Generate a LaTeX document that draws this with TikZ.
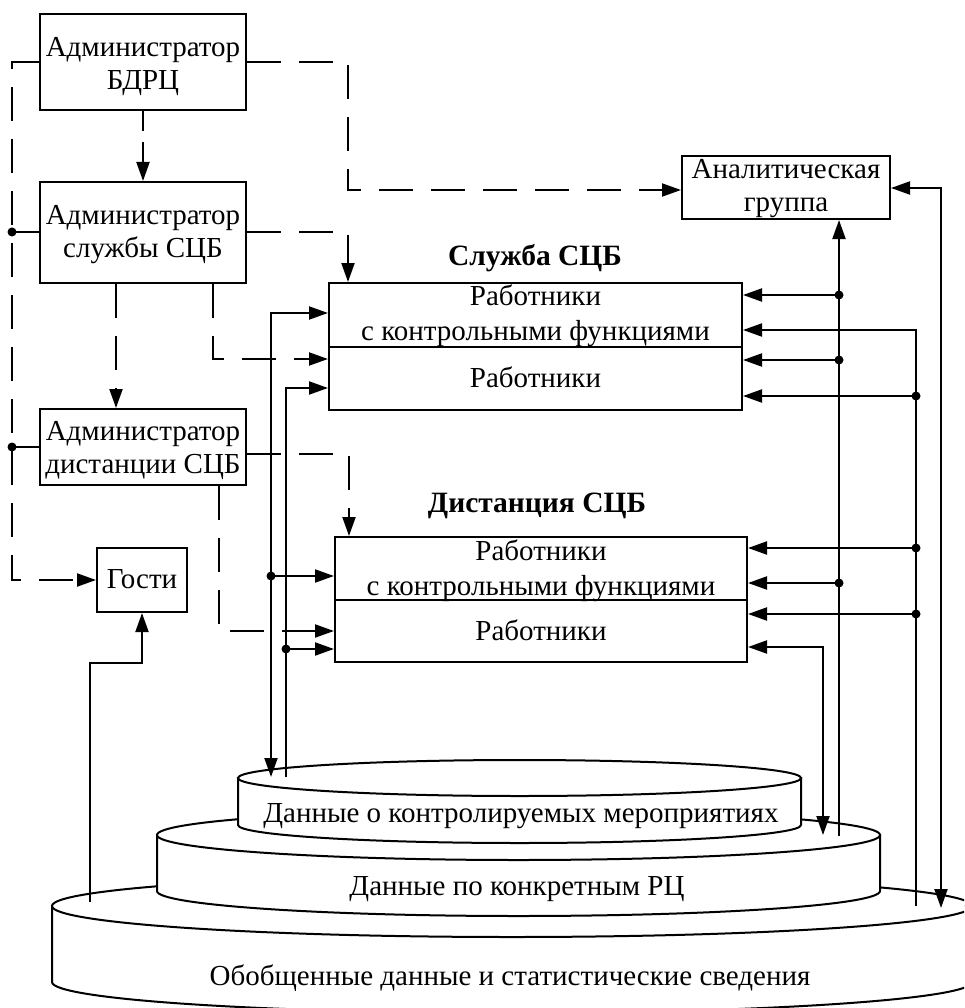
\documentclass[tikz,border=0pt]{standalone}
\usepackage{fontspec}
\setmainfont{Liberation Serif}
\usetikzlibrary{arrows.meta,calc}
\begin{document}
\begin{tikzpicture}[x=1pt,y=-1pt,line width=2pt,
  font=\fontsize{29}{33}\selectfont,
  box/.style={draw,rectangle,inner sep=0pt},
  txt/.style={anchor=base,inner sep=0pt},
  ttl/.style={anchor=base,inner sep=0pt,font=\fontsize{29.5}{33}\selectfont\bfseries},
  dline/.style={dash pattern=on 34pt off 18pt},
  sdline/.style={dash pattern=on 20pt off 11pt},
  arr/.style={-{Triangle[length=19pt,width=13pt]}},
  darr/.style={{Triangle[length=19pt,width=13pt]}-{Triangle[length=19pt,width=13pt]}},
  jdot/.style={circle,fill,inner sep=0pt,minimum size=9pt},
  cyl/.style={draw,fill=white}]
\useasboundingbox (0,0) rectangle (964,1008);
\clip (0,0) rectangle (964,1008);

% ---------- cylinders ----------
% bottom
\path[cyl] (52,906) -- (52,982) arc[start angle=180,end angle=0,x radius=460,y radius=31] -- (972,906) -- cycle;
\draw[fill=white] (512,906) ellipse[x radius=460,y radius=31];
% middle
\path[cyl] (157,835) -- (157,891) arc[start angle=180,end angle=0,x radius=361.5,y radius=25] -- (880,835) -- cycle;
\draw[fill=white] (518.5,835) ellipse[x radius=361.5,y radius=25];
% top
\path[cyl] (238,778) -- (238,825) arc[start angle=180,end angle=0,x radius=281.5,y radius=18] -- (801,778) -- cycle;
\draw[fill=white] (519.5,778) ellipse[x radius=281.5,y radius=18];

\node[txt] (t1) at (521,822) {Данные о контролируемых мероприятиях};
\node[txt] (t2) at (517,895) {Данные по конкретным РЦ};
\node[txt] (t3) at (510,985) {Обобщенные данные и статистические сведения};

\coordinate (c1) at (271,777);
\coordinate (c2) at (286,777);
\coordinate (c3) at (90,902);
\coordinate (c4) at (839,836);
\coordinate (c5) at (916,906);
\coordinate (c6) at (941,908);
\coordinate (c7) at (823,835);

% ---------- boxes ----------
\node[box,minimum width=206pt,minimum height=96pt] (bdrc) at (143,62) {};
\node[box,minimum width=206pt,minimum height=101pt] (sadm) at (143,232.5) {};
\node[box,minimum width=206pt,minimum height=76pt] (dadm) at (143,447) {};
\node[box,minimum width=90pt,minimum height=64pt] (gosti) at (142,580) {};
\node[box,minimum width=208pt,minimum height=63pt] (anal) at (786,187.5) {};
\node[box,minimum width=413pt,minimum height=127pt] (sl) at (535.5,346.5) {};
\node[box,minimum width=412pt,minimum height=125pt] (ds) at (541,599.5) {};
\draw[line width=2.4pt] (sl.west |- 0,347) -- (sl.east |- 0,347);
\draw (ds.west |- 0,600) -- (ds.east |- 0,600);

\node[txt] at (143,57) {Администратор};
\node[txt] at (143,90) {БДРЦ};
\node[txt] at (143,225) {Администратор};
\node[txt] at (143,258) {службы СЦБ};
\node[txt] at (143,440) {Администратор};
\node[txt] at (143,473) {дистанции СЦБ};
\node[txt] at (142,588) {Гости};
\node[txt] at (786,179) {Аналитическая};
\node[txt] at (786,212) {группа};

\node[ttl] at (535,265) {Служба СЦБ};
\node[ttl] at (537,512) {Дистанция СЦБ};

\node[txt] at (535.5,305) {Работники};
\node[txt] at (535.5,340) {с контрольными функциями};
\node[txt] at (535.5,387) {Работники};
\node[txt] at (541,560) {Работники};
\node[txt] at (541,595) {с контрольными функциями};
\node[txt] at (541,640) {Работники};

% ---------- dashed connectors ----------
\draw[dline,arr] (bdrc.west) -- (12,62) -- (12,580) -- (gosti.west);
\draw[dline,arr] (bdrc.east) -- (348,62) -- (348,190) -- (anal.west |- 0,190);
\draw[sdline,arr] (bdrc.south) -- (sadm.north);
\draw[dline,arr] (sadm.east |- 0,232) -- (348,232) -- (348,0 |- sl.north);
\draw[dline,arr] (116,0 |- sadm.south) -- (116,0 |- dadm.north);
\draw[dline,arr] (213,0 |- sadm.south) -- (213,359) -- (sl.west |- 0,359);
\draw[dline,arr] (dadm.east |- 0,454) -- (349,454) -- (349,0 |- ds.north);
\draw[dline,arr] (219,0 |- dadm.south) -- (219,631) -- (ds.west |- 0,631);

% ---------- solid connectors ----------
\draw (sadm.west |- 0,232) -- (12,232);
\node[jdot] (d1) at (12,232) {};
\draw (dadm.west) -- (12,447);
\node[jdot] (d2) at (12,447) {};

\draw[darr] (sl.west |- 0,313) -- (271,313) -- (c1);
\draw[arr] (271,576) -- (ds.west |- 0,576);
\node[jdot] (d3) at (271,576) {};
\draw[arr] (c2) -- (286,388) -- (sl.west |- 0,388);
\draw[arr] (286,649) -- (ds.west |- 0,649);
\node[jdot] (d4) at (286,649) {};

\draw[arr] (c3) -- (90,663) -- (142,663) -- (gosti.south);

\draw[arr] (c4) -- (839,0 |- anal.south);
\draw[arr] (839,295) -- (sl.east |- 0,295);
\draw[arr] (839,360) -- (sl.east |- 0,360);
\draw[arr] (839,583) -- (ds.east |- 0,583);
\node[jdot] (d5) at (839,295) {};
\node[jdot] (d6) at (839,360) {};
\node[jdot] (d7) at (839,583) {};

\draw[arr] (c5) -- (916,330) -- (sl.east |- 0,330);
\draw[arr] (916,396) -- (sl.east |- 0,396);
\draw[arr] (916,548) -- (ds.east |- 0,548);
\draw[arr] (916,614) -- (ds.east |- 0,614);
\node[jdot] (d8) at (916,396) {};
\node[jdot] (d9) at (916,548) {};
\node[jdot] (d10) at (916,614) {};

\draw[darr] (anal.east |- 0,188) -- (941,188) -- (c6);
\draw[darr] (ds.east |- 0,647) -- (823,647) -- (c7);
\end{tikzpicture}
\end{document}
